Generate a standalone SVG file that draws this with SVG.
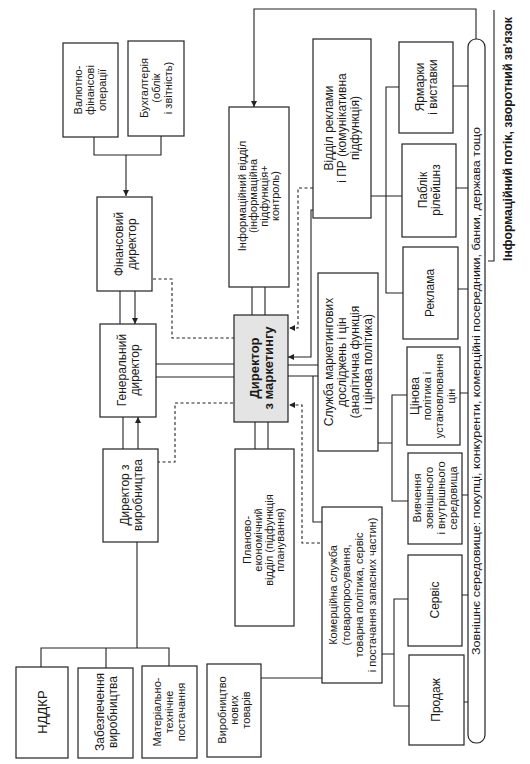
<svg xmlns="http://www.w3.org/2000/svg" width="530" height="764" viewBox="0 0 530 764">
<defs>
<style>
.box{fill:#fff;stroke:#222;stroke-width:1.2}
.dir{fill:#e4e4e4;stroke:#222;stroke-width:1.2}
.ln{fill:none;stroke:#222;stroke-width:1.1}
.dash{fill:none;stroke:#222;stroke-width:1.1;stroke-dasharray:3,2.5}
text{font-family:"Liberation Sans",Arial,sans-serif;fill:#1a1a1a;text-anchor:middle}
.t11{font-size:11px}
.t12{font-size:12px}
.t13{font-size:13px}
.b{font-weight:bold}
</style>
<marker id="ah" viewBox="0 0 6 6" markerWidth="6" markerHeight="6" refX="6" refY="3" orient="auto" markerUnits="userSpaceOnUse">
<path d="M0,0 L6,3 L0,6 z" fill="#222"/>
</marker>
</defs>
<rect width="530" height="764" fill="#fff"/>

<g id="connectors">
<path class="ln" d="M94,137 V155 H161 V136"/>
<path class="ln" d="M126,155 V196" marker-end="url(#ah)"/>
<path class="ln" d="M476,39 V9 H254 V107" marker-end="url(#ah)"/>
<path class="ln" d="M494,10 V261 H488"/>
<path class="ln" d="M120,291 V324"/>
<path class="ln" d="M135,291 V324" marker-end="url(#ah)"/>
<path class="ln" d="M123,417 V449"/>
<path class="ln" d="M138,449 V417" marker-end="url(#ah)"/>
<path class="ln" d="M156,364 H234 M156,377 H234"/>
<path class="ln" d="M252,287 V315 M265,287 V315"/>
<path class="ln" d="M255,422 V449 M268,422 V449"/>
<path class="ln" d="M288,365 H318 M288,376 H318"/>
<path class="ln" d="M313,210 H311 V357 H288" marker-end="url(#ah)"/>
<path class="ln" d="M313,376 V522 H322"/>
<path class="ln" d="M137,542 V648 M41,667 V648 H169 V666 M106,648 V668"/>
<path class="ln" d="M261,678 H322"/>
<path class="ln" d="M371,196 H402 M399,87 H386 V293 H403"/>
<path class="ln" d="M378,443 H392 M407,395 H392 V501 H408"/>
<path class="ln" d="M382,654 H394 M408,599 H394 V706 H409"/>
<path class="ln" d="M453,86 H468 M456,188 H468 M458,289 H468 M460,393 H468 M462,495 H468 M462,595 H468 M464,702 H468"/>
<path class="dash" d="M153,279 H172 V338 H234"/>
<path class="dash" d="M157,462 H175 V403 H234"/>
<path class="dash" d="M313,188 H298 V328 H289" marker-end="url(#ah)"/>
<path class="dash" d="M320,543 H302 V405 H289" marker-end="url(#ah)"/>
</g>

<g id="valyutno">
<rect class="box" x="63" y="43" width="55" height="94"/>
<text class="t11" transform="translate(90,90) rotate(-90)"><tspan x="0" y="-8">Валютно-</tspan><tspan x="0" y="4">фінансові</tspan><tspan x="0" y="16">операції</tspan></text>
</g>
<g id="bukhgalteriya">
<rect class="box" x="128" y="41" width="56" height="95"/>
<text class="t11" transform="translate(156,88) rotate(-90)"><tspan x="0" y="-8">Бухгалтерія</tspan><tspan x="0" y="4">(облік</tspan><tspan x="0" y="16">і звітність)</tspan></text>
</g>
<g id="finansovyi">
<rect class="box" x="97" y="197" width="55" height="94"/>
<text class="t12" transform="translate(125,244) rotate(-90)"><tspan x="0" y="-2">Фінансовий</tspan><tspan x="0" y="11">директор</tspan></text>
</g>
<g id="generalnyi">
<rect class="box" x="100" y="324" width="56" height="93"/>
<text class="t12" transform="translate(128,370) rotate(-90)"><tspan x="0" y="-2">Генеральний</tspan><tspan x="0" y="11">директор</tspan></text>
</g>
<g id="vyrobnytstvo">
<rect class="box" x="103" y="449" width="55" height="93"/>
<text class="t12" transform="translate(131,495) rotate(-90)"><tspan x="0" y="-2">Директор з</tspan><tspan x="0" y="11">виробництва</tspan></text>
</g>
<g id="dyrektor-marketyngu">
<rect class="dir" x="234" y="315" width="54" height="107"/>
<text class="t13 b" transform="translate(261,368) rotate(-90)"><tspan x="0" y="-2">Директор</tspan><tspan x="0" y="12">з маркетингу</tspan></text>
</g>
<g id="informatsiinyi">
<rect class="box" x="229" y="107" width="60" height="180"/>
<text class="t11" transform="translate(259,196) rotate(-90)"><tspan x="0" y="-13">Інформаційний відділ</tspan><tspan x="0" y="-2">(інформаційна</tspan><tspan x="0" y="9">підфункція+</tspan><tspan x="0" y="20">контроль)</tspan></text>
</g>
<g id="planovo">
<rect class="box" x="235" y="449" width="59" height="177"/>
<text class="t11" transform="translate(264,540) rotate(-90)"><tspan x="0" y="-13">Планово-</tspan><tspan x="0" y="-2">економічний</tspan><tspan x="0" y="9">відділ (підфункція</tspan><tspan x="0" y="20">планування)</tspan></text>
</g>
<g id="viddil-reklamy">
<rect class="box" x="313" y="39" width="58" height="179"/>
<text class="t12" transform="translate(342,128) rotate(-90)"><tspan x="0" y="-9">Відділ реклами</tspan><tspan x="0" y="4">і ПР (комунікативна</tspan><tspan x="0" y="17">підфункція)</tspan></text>
</g>
<g id="sluzhba-marketyngovykh">
<rect class="box" x="318" y="273" width="60" height="178"/>
<text class="t12" transform="translate(348,362) rotate(-90)"><tspan x="0" y="-15">Служба маркетингових</tspan><tspan x="0" y="-2">досліджень і цін</tspan><tspan x="0" y="11">(аналітична функція</tspan><tspan x="0" y="24">і цінова політика)</tspan></text>
</g>
<g id="komertsiina">
<rect class="box" x="322" y="507" width="60" height="176"/>
<text class="t11" transform="translate(352,595) rotate(-90)"><tspan x="0" y="-15">Комерційна служба</tspan><tspan x="0" y="-2">(товаропросування,</tspan><tspan x="0" y="11">товарна політика, сервіс</tspan><tspan x="0" y="24">і постачання запасних частин)</tspan></text>
</g>
<g id="yarmarky">
<rect class="box" x="399" y="42" width="54" height="91"/>
<text class="t12" transform="translate(426,87) rotate(-90)"><tspan x="0" y="-2">Ярмарки</tspan><tspan x="0" y="11">і виставки</tspan></text>
</g>
<g id="pablik">
<rect class="box" x="402" y="144" width="54" height="93"/>
<text class="t12" transform="translate(429,190) rotate(-90)"><tspan x="0" y="-2">Паблік</tspan><tspan x="0" y="11">рілейшнз</tspan></text>
</g>
<g id="reklama">
<rect class="box" x="403" y="247" width="55" height="92"/>
<text class="t12" transform="translate(430,293) rotate(-90)"><tspan x="0" y="4">Реклама</tspan></text>
</g>
<g id="tsinova">
<rect class="box" x="407" y="347" width="53" height="98"/>
<text class="t11" transform="translate(433,396) rotate(-90)"><tspan x="0" y="-14" style="font-size:12px">Цінова</tspan><tspan x="0" y="-2">політика і</tspan><tspan x="0" y="10">установлювання</tspan><tspan x="0" y="22">цін</tspan></text>
</g>
<g id="vyvchennia">
<rect class="box" x="408" y="453" width="54" height="91"/>
<text class="t11" transform="translate(435,498) rotate(-90)"><tspan x="0" y="-14">Вивчення</tspan><tspan x="0" y="-2">зовнішнього</tspan><tspan x="0" y="10">і внутрішнього</tspan><tspan x="0" y="22">середовища</tspan></text>
</g>
<g id="servis">
<rect class="box" x="408" y="555" width="54" height="91"/>
<text class="t12" transform="translate(435,600) rotate(-90)"><tspan x="0" y="4">Сервіс</tspan></text>
</g>
<g id="prodazh">
<rect class="box" x="409" y="655" width="55" height="90"/>
<text class="t12" transform="translate(436,700) rotate(-90)"><tspan x="0" y="4">Продаж</tspan></text>
</g>
<g id="nddkr">
<rect class="box" x="16" y="667" width="52" height="91"/>
<text class="t13" transform="translate(42,712) rotate(-90)"><tspan x="0" y="5">НДДКР</tspan></text>
</g>
<g id="zabezpechennia">
<rect class="box" x="78" y="668" width="55" height="90"/>
<text class="t12" transform="translate(106,712) rotate(-90)"><tspan x="0" y="-2">Забезпечення</tspan><tspan x="0" y="11">виробництва</tspan></text>
</g>
<g id="materialno">
<rect class="box" x="142" y="666" width="55" height="92"/>
<text class="t11" transform="translate(169,712) rotate(-90)"><tspan x="0" y="-8">Матеріально-</tspan><tspan x="0" y="4">технічне</tspan><tspan x="0" y="16">постачання</tspan></text>
</g>
<g id="novi-tovary">
<rect class="box" x="207" y="664" width="54" height="93"/>
<text class="t11" transform="translate(234,710) rotate(-90)"><tspan x="0" y="-8">Виробництво</tspan><tspan x="0" y="4">нових</tspan><tspan x="0" y="16">товарів</tspan></text>
</g>
<g id="seredovyshche">
<rect class="box" x="468" y="39" width="17" height="704" rx="8" ry="8"/>
<text class="t11" transform="translate(476,391) rotate(-90)" textLength="528" lengthAdjust="spacingAndGlyphs"><tspan x="0" y="4">Зовнішнє середовище: покупці, конкуренти, комерційні посередники, банки, держава тощо</tspan></text>
</g>
<g id="info-potik">
<text class="t12 b" transform="translate(508,139) rotate(-90)" textLength="244" lengthAdjust="spacingAndGlyphs"><tspan x="0" y="4">Інформаційний потік, зворотний зв'язок</tspan></text>
</g>
</svg>
